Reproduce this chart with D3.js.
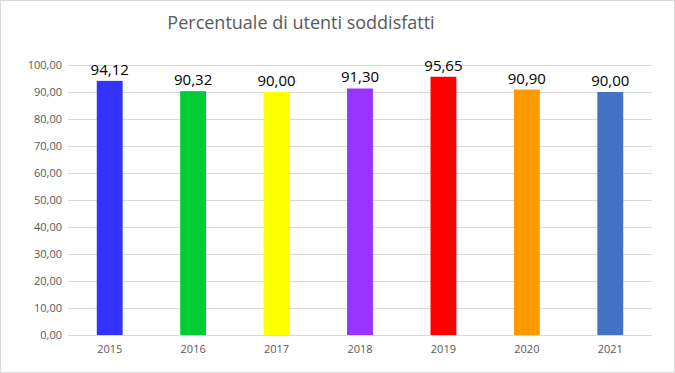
<!DOCTYPE html>
<html>
<head>
<meta charset="utf-8">
<script src="https://cdn.jsdelivr.net/npm/d3@7"></script>
<style>
  body { margin: 0; background: #fff; }
  svg { display: block; font-family: "Open Sans", "Liberation Sans", sans-serif; }
</style>
</head>
<body>
<div id="chart"></div>
<script>
const width = 675;
const height = 373;

// Data
const years = ["2015", "2016", "2017", "2018", "2019", "2020", "2021"];
const values = [94.12, 90.32, 90.00, 91.30, 95.65, 90.90, 90.00];
const colors = ["#3333ff", "#00cc33", "#ffff00", "#9933ff", "#ff0000", "#ff9900", "#4472c4"];
const yTicks = [0, 10, 20, 30, 40, 50, 60, 70, 80, 90, 100];

const margin = { top: 65, right: 23, bottom: 38, left: 68 };

const fmt = v => v.toFixed(2).replace(".", ",");

const svg = d3.select("#chart").append("svg")
    .attr("width", width)
    .attr("height", height);

// outer chart border
svg.append("rect")
    .attr("x", 0.5).attr("y", 0.5)
    .attr("width", width - 1).attr("height", height - 1)
    .attr("fill", "#fff")
    .attr("stroke", "#d9d9d9");

const x = d3.scaleBand()
    .domain(years)
    .range([margin.left, width - margin.right])
    .paddingInner(0.69)
    .paddingOuter(0.345);

const y = d3.scaleLinear()
    .domain([0, 100])
    .range([height - margin.bottom, margin.top]);

// gridlines
svg.append("g")
    .selectAll("line")
    .data(yTicks)
    .join("line")
    .attr("x1", margin.left)
    .attr("x2", width - margin.right)
    .attr("y1", d => Math.round(y(d)) + 0.5)
    .attr("y2", d => Math.round(y(d)) + 0.5)
    .attr("stroke", "#d9d9d9");

// y axis labels
svg.append("g")
    .selectAll("text")
    .data(yTicks)
    .join("text")
    .attr("x", margin.left - 6)
    .attr("y", d => y(d))
    .attr("dy", "0.35em")
    .attr("text-anchor", "end")
    .attr("fill", "#595959")
    .style("font-size", "11px")
    .text(d => fmt(d));

// bars
svg.append("g")
    .selectAll("rect")
    .data(years)
    .join("rect")
    .attr("x", d => x(d))
    .attr("width", x.bandwidth())
    .attr("y", (d, i) => y(values[i]))
    .attr("height", (d, i) => y(0) - y(values[i]))
    .attr("fill", (d, i) => colors[i]);

// value labels
svg.append("g")
    .selectAll("text")
    .data(years)
    .join("text")
    .attr("x", d => x(d) + x.bandwidth() / 2)
    .attr("y", (d, i) => y(values[i]) - 6)
    .attr("text-anchor", "middle")
    .attr("fill", "#000")
    .style("font-size", "15px")
    .text((d, i) => fmt(values[i]));

// x axis labels
svg.append("g")
    .selectAll("text")
    .data(years)
    .join("text")
    .attr("x", d => x(d) + x.bandwidth() / 2)
    .attr("y", height - margin.bottom + 18)
    .attr("text-anchor", "middle")
    .attr("fill", "#595959")
    .style("font-size", "11px")
    .text(d => d);

// title
svg.append("text")
    .attr("x", 301)
    .attr("y", 29)
    .attr("text-anchor", "middle")
    .attr("fill", "#595959")
    .style("font-size", "18px")
    .text("Percentuale di utenti soddisfatti");
</script>
</body>
</html>
